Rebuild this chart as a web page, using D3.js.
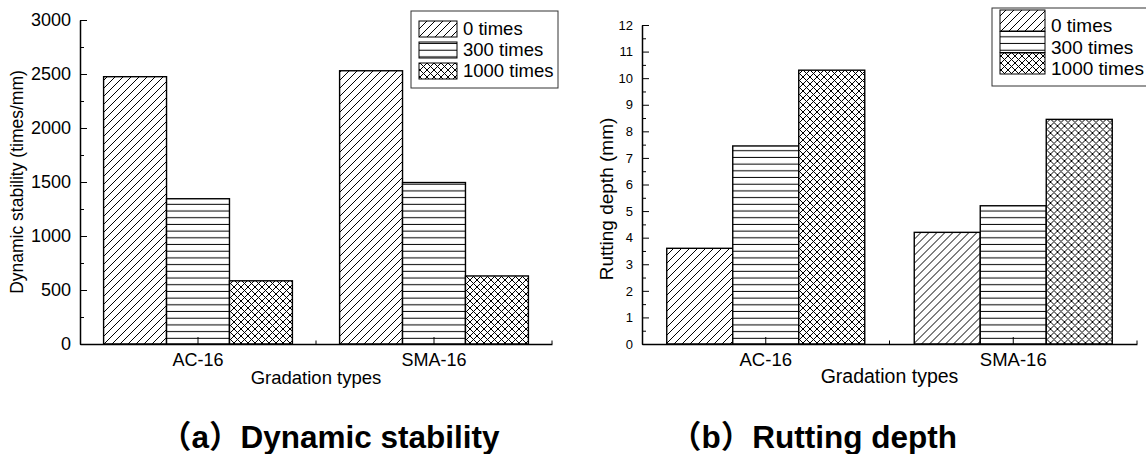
<!DOCTYPE html>
<html>
<head>
<meta charset="utf-8">
<script src="https://cdn.jsdelivr.net/npm/d3@7"></script>
<style>
  body { margin: 0; background: #fff; }
  text { font-family: "Liberation Sans", Arial, "Noto Sans CJK SC", sans-serif; fill: #000; }
</style>
</head>
<body>
<div id="chart"></div>
<script>
// data
const categories = ["AC-16", "SMA-16"]
const seriesNames = ["0 times", "300 times", "1000 times"]
const stability0 = [2475, 2530]
const stability300 = [1345, 1495]
const stability1000 = [585, 630]
const rutting0 = [3.6, 4.2]
const rutting300 = [7.45, 5.2]
const rutting1000 = [10.3, 8.45]
const stabilityTicks = [0, 500, 1000, 1500, 2000, 2500, 3000]
const stabilityMinor = [250, 750, 1250, 1750, 2250, 2750]
const ruttingTicks = [0, 1, 2, 3, 4, 5, 6, 7, 8, 9, 10, 11, 12]
const ruttingMinor = [0.5, 1.5, 2.5, 3.5, 4.5, 5.5, 6.5, 7.5, 8.5, 9.5, 10.5, 11.5]

const width = 1146
const height = 454
const patternIds = ["hatch-diag", "hatch-horiz", "hatch-cross"]

const svg = d3.select("#chart")
    .append("svg")
    .attr("width", width)
    .attr("height", height)
    .attr("viewBox", [0, 0, width, height])

svg.append("rect").attr("width", width).attr("height", height).attr("fill", "#fff")

// hatch patterns
const defs = svg.append("defs")
const pDiag = defs.append("pattern").attr("id", "hatch-diag")
    .attr("patternUnits", "userSpaceOnUse").attr("width", 8).attr("height", 8)
pDiag.append("rect").attr("width", 8).attr("height", 8).attr("fill", "#fff")
pDiag.append("path").attr("d", "M0,8L8,0M-2,2L2,-2M6,10L10,6")
    .attr("stroke", "#000").attr("stroke-width", 1)

const pHoriz = defs.append("pattern").attr("id", "hatch-horiz")
    .attr("patternUnits", "userSpaceOnUse").attr("width", 10).attr("height", 6.7)
pHoriz.append("rect").attr("width", 10).attr("height", 6.7).attr("fill", "#fff")
pHoriz.append("path").attr("d", "M0,3.3H10")
    .attr("stroke", "#000").attr("stroke-width", 1)

const pCross = defs.append("pattern").attr("id", "hatch-cross")
    .attr("patternUnits", "userSpaceOnUse").attr("width", 7).attr("height", 7)
pCross.append("rect").attr("width", 7).attr("height", 7).attr("fill", "#fff")
pCross.append("path").attr("d", "M0,0L7,7M0,7L7,0")
    .attr("stroke", "#000").attr("stroke-width", 1)

const panel = function (opt) {
    const g = svg.append("g")
    const layer_bars = g.append("g")
    const layer_axes = g.append("g")
    const layer_legend = g.append("g")
    const layer_title = g.append("g")

    const rows = categories.map((c, i) => ({
        key: c,
        values: opt.series.map((s, j) => ({name: seriesNames[j], value: s[i]}))
    }))

    const x = d3.scaleBand()
        .domain(categories)
        .range(opt.xRange)
        .padding(0)

    const xInner = d3.scaleBand()
        .domain(seriesNames)
        .range([x.bandwidth() * 0.1, x.bandwidth() * 0.9])

    const y = d3.scaleLinear()
        .domain(opt.yDomain)
        .range(opt.yRange)

    layer_bars.selectAll("g")
        .data(rows)
        .join("g")
        .attr("transform", d => `translate(${x(d.key)},0)`)
        .selectAll("rect")
        .data(d => d.values)
        .join("rect")
        .attr("x", d => xInner(d.name))
        .attr("width", xInner.bandwidth())
        .attr("y", d => y(d.value))
        .attr("height", d => y(0) - y(d.value))
        .attr("fill", (d, i) => `url(#${patternIds[i]})`)
        .attr("stroke", "#000")
        .attr("stroke-width", 1.4)

    // y axis, ticks pointing inward
    layer_axes.append("g")
        .attr("transform", `translate(${opt.xRange[0]},0)`)
        .call(d3.axisLeft(y).tickValues(opt.ticks).tickFormat(d3.format("d"))
            .tickSize(-7).tickPadding(9).tickSizeOuter(0))
        .call(a => a.selectAll("text").style("font-size", opt.yTickFont + "px"))
    layer_axes.append("g")
        .attr("transform", `translate(${opt.xRange[0]},0)`)
        .call(d3.axisLeft(y).tickValues(opt.minor).tickSize(-4).tickFormat(""))
        .call(a => a.select(".domain").remove())

    // x axis
    layer_axes.append("g")
        .attr("transform", `translate(0,${opt.yRange[0]})`)
        .call(d3.axisBottom(x).tickSize(-7).tickPadding(9).tickSizeOuter(0))
        .call(a => a.selectAll("text").style("font-size", opt.xTickFont + "px"))
    layer_axes.append("g")
        .selectAll("line")
        .data(categories)
        .join("line")
        .attr("x1", d => x(d) + x.bandwidth())
        .attr("x2", d => x(d) + x.bandwidth())
        .attr("y1", opt.yRange[0])
        .attr("y2", opt.yRange[0] - 3.5)
        .attr("stroke", "#000")

    layer_axes.selectAll(".domain").attr("stroke", "#000").attr("stroke-width", 1.5)
    layer_axes.selectAll(".tick line").attr("stroke", "#000").attr("stroke-width", 1)

    // axis titles
    layer_title.append("text")
        .attr("x", d3.mean(opt.xRange))
        .attr("y", opt.xTitleY)
        .attr("text-anchor", "middle")
        .style("font-size", opt.xTitleFont + "px")
        .text("Gradation types")
    layer_title.append("text")
        .attr("transform", `translate(${opt.yTitleX},${opt.yTitleY}) rotate(-90)`)
        .attr("text-anchor", "middle")
        .style("font-size", opt.yTitleFont + "px")
        .text(opt.yTitle)
    layer_title.append("text")
        .attr("x", opt.captionX)
        .attr("y", 448)
        .style("font-size", "31.5px")
        .style("font-weight", "bold")
        .text(opt.caption)

    // legend
    const lg = opt.legend
    layer_legend.append("rect")
        .attr("x", lg.x).attr("y", lg.y)
        .attr("width", lg.w).attr("height", lg.h)
        .attr("fill", "#fff").attr("stroke", "#333").attr("stroke-width", 1)
    const items = layer_legend.selectAll("g")
        .data(seriesNames)
        .join("g")
    items.append("rect")
        .attr("x", lg.x + 8)
        .attr("y", (d, i) => lg.y + lg.sy + i * lg.step)
        .attr("width", lg.sw).attr("height", lg.sh)
        .attr("fill", (d, i) => `url(#${patternIds[i]})`)
        .attr("stroke", "#000").attr("stroke-width", 1)
    items.append("text")
        .attr("x", lg.x + 14 + lg.sw)
        .attr("y", (d, i) => lg.y + lg.ty + i * lg.step)
        .style("font-size", lg.font + "px")
        .text(d => d)
}

panel({
    series: [stability0, stability300, stability1000],
    xRange: [80, 552], yRange: [344, 20], yDomain: [0, 3000],
    ticks: stabilityTicks, minor: stabilityMinor,
    yTickFont: 18, xTickFont: 18,
    xTitleY: 384, xTitleFont: 18.5,
    yTitle: "Dynamic stability (times/mm)", yTitleX: 23, yTitleY: 182, yTitleFont: 17.5,
    caption: "（a）Dynamic stability", captionX: 160,
    legend: {x: 411, y: 11, w: 147, h: 77, sy: 10, sw: 38, sh: 16, step: 21, ty: 24, font: 18.5}
})

panel({
    series: [rutting0, rutting300, rutting1000],
    xRange: [642, 1137], yRange: [344, 25], yDomain: [0, 12],
    ticks: ruttingTicks, minor: ruttingMinor,
    yTickFont: 13, xTickFont: 18.5,
    xTitleY: 383, xTitleFont: 19.5,
    yTitle: "Rutting depth (mm)", yTitleX: 613, yTitleY: 199, yTitleFont: 19,
    caption: "（b）Rutting depth", captionX: 670,
    legend: {x: 992, y: 8, w: 160, h: 78, sy: 2, sw: 45, sh: 21, step: 21.5, ty: 24, font: 19}
})
</script>
</body>
</html>
